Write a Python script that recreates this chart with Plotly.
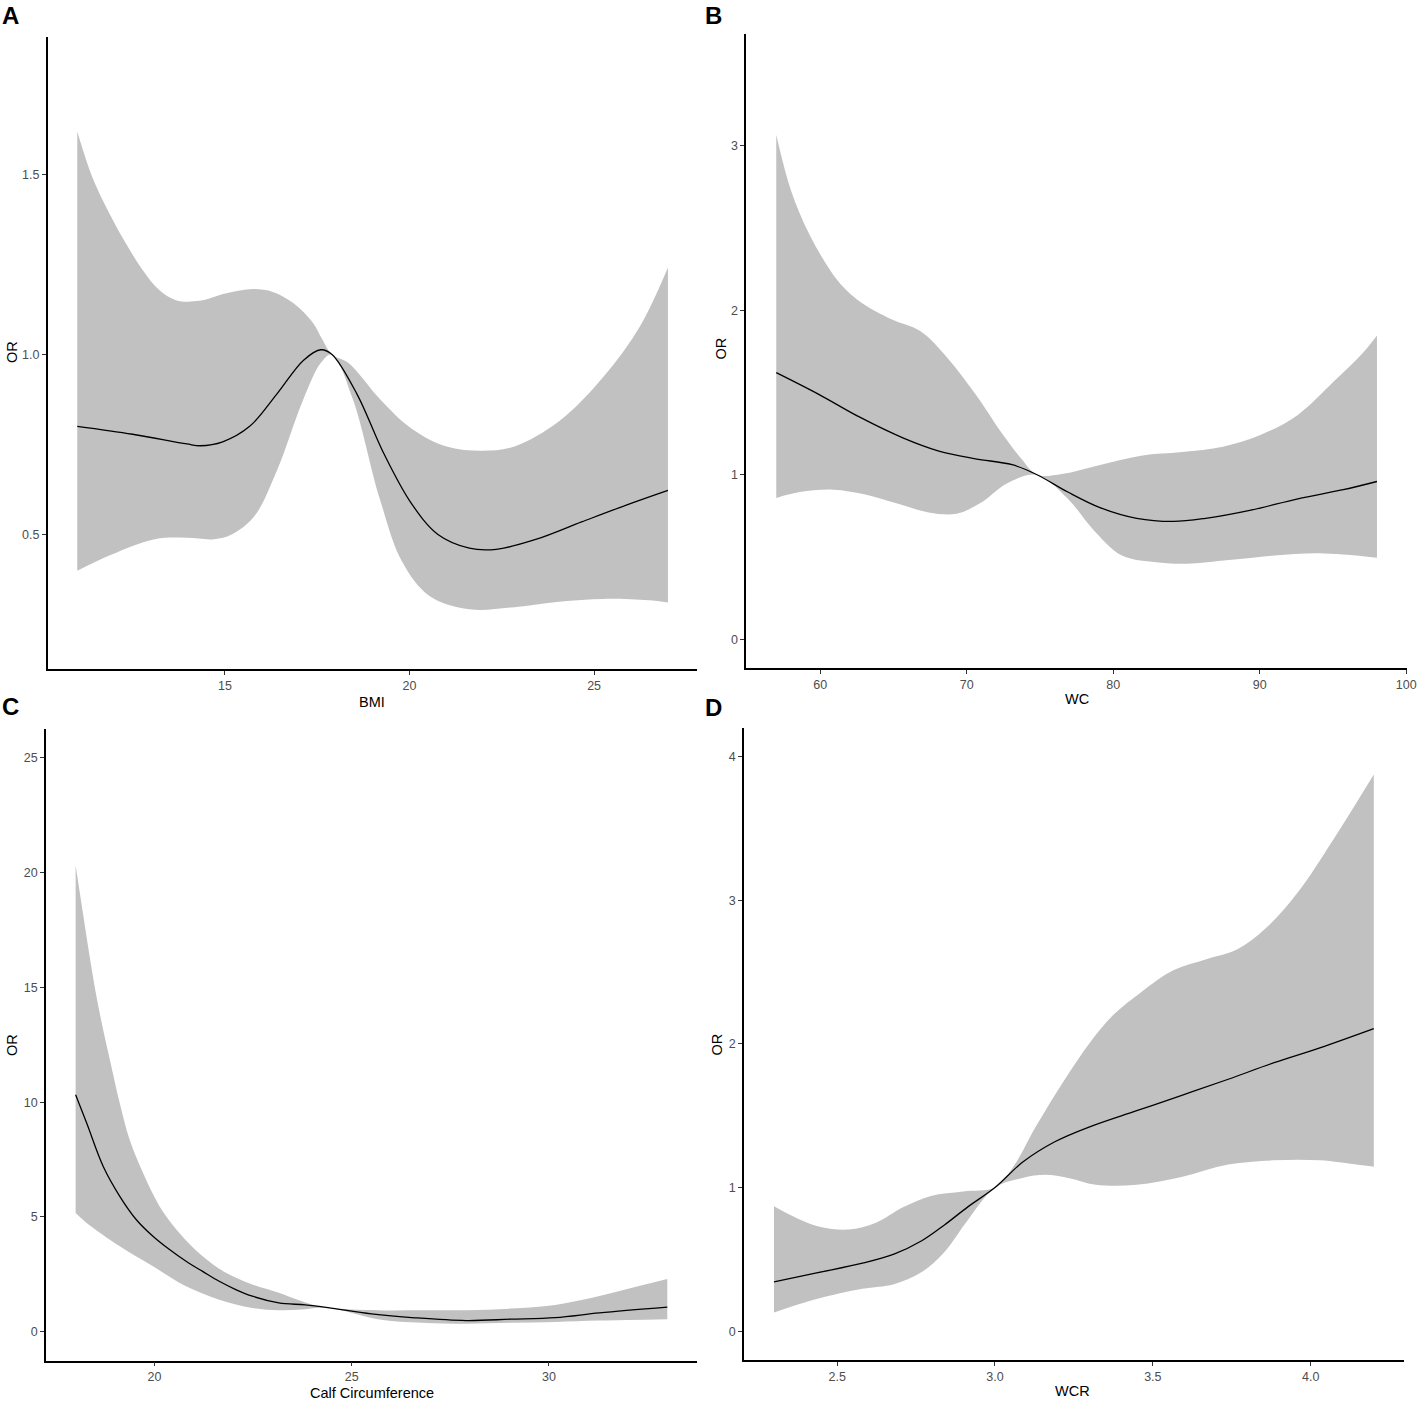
import plotly.graph_objects as go

REF_W, H = 1418, 1403
W = 1429  # page is rendered slightly compressed horizontally; widen to compensate

# ---------------- Panel A : BMI ----------------
bmi_up_x = [11.0, 11.4, 11.86, 12.31, 12.77, 13.22, 13.67, 14.31, 15.04, 15.76, 16.3, 16.85, 17.39, 17.62, 17.9, 18.34, 19.19, 20.04, 21.0, 21.99, 22.84, 24.05, 25.27, 26.24, 27.0]
bmi_up_y = [1.62, 1.495, 1.394, 1.31, 1.235, 1.179, 1.151, 1.149, 1.17, 1.182, 1.174, 1.143, 1.087, 1.045, 1.0, 0.977, 0.877, 0.795, 0.744, 0.732, 0.744, 0.814, 0.94, 1.078, 1.242]
bmi_lo_x = [11.0, 11.9, 13.1, 13.97, 14.7, 15.18, 15.79, 16.4, 17.13, 17.6, 17.9, 18.46, 19.19, 19.8, 20.53, 21.62, 22.84, 24.05, 25.27, 26.48, 27.0]
bmi_lo_y = [0.398, 0.442, 0.486, 0.49, 0.486, 0.499, 0.549, 0.675, 0.877, 0.977, 1.0, 0.877, 0.6, 0.423, 0.329, 0.291, 0.297, 0.312, 0.32, 0.316, 0.31]
bmi_or_x = [11.0, 12.5, 13.97, 14.33, 14.94, 15.67, 16.4, 17.13, 17.6, 17.9, 18.58, 19.3, 20.04, 20.77, 21.62, 22.35, 23.44, 24.66, 25.87, 27.0]
bmi_or_y = [0.80, 0.778, 0.751, 0.746, 0.757, 0.80, 0.889, 0.984, 1.013, 1.0, 0.889, 0.725, 0.587, 0.499, 0.461, 0.458, 0.486, 0.534, 0.581, 0.622]
bmi_xticks = [15, 20, 25]
bmi_yticks = [0.5, 1.0, 1.5]

# ---------------- Panel B : WC ----------------
wc_up_x = [57, 58, 59.3, 61.2, 62.7, 64.9, 66.8, 68.7, 70.6, 72.5, 73.7, 74.8, 76.5, 79.1, 81.9, 84.7, 87.5, 90.0, 92.6, 95.1, 97.0, 98.0]
wc_up_y = [3.067, 2.73, 2.455, 2.18, 2.054, 1.944, 1.875, 1.709, 1.49, 1.24, 1.10, 1.0, 1.005, 1.06, 1.116, 1.138, 1.171, 1.24, 1.364, 1.571, 1.737, 1.847]
wc_lo_x = [57, 58.6, 60.9, 63.0, 65.2, 67.4, 69.3, 70.9, 72.8, 74.8, 76.9, 78.7, 80.6, 83.1, 85.0, 87.9, 91.0, 94.1, 98.0]
wc_lo_y = [0.859, 0.895, 0.909, 0.881, 0.826, 0.771, 0.763, 0.826, 0.95, 1.0, 0.854, 0.66, 0.509, 0.467, 0.459, 0.481, 0.509, 0.522, 0.495]
wc_or_x = [57, 59.9, 62.7, 65.6, 68.1, 70.6, 73.1, 74.8, 76.9, 79.1, 81.6, 84.1, 86.3, 89.4, 92.6, 95.7, 98.0]
wc_or_y = [1.621, 1.489, 1.35, 1.226, 1.144, 1.097, 1.061, 1.0, 0.895, 0.80, 0.735, 0.716, 0.735, 0.785, 0.854, 0.909, 0.959]
wc_xticks = [60, 70, 80, 90, 100]
wc_yticks = [0, 1, 2, 3]

# ---------------- Panel C : Calf Circumference ----------------
cc_up_x = [18.0, 18.2, 18.37, 18.53, 18.7, 18.87, 19.12, 19.37, 19.71, 20.13, 20.63, 21.22, 21.81, 22.48, 23.15, 23.49, 23.99, 24.4, 25.66, 26.78, 27.9, 29.03, 30.16, 31.28, 32.18, 33.0]
cc_up_y = [20.32, 18.07, 16.19, 14.59, 13.14, 11.84, 9.95, 8.36, 6.91, 5.46, 4.30, 3.29, 2.57, 2.06, 1.70, 1.48, 1.19, 1.05, 0.94, 0.94, 0.94, 1.01, 1.17, 1.56, 1.95, 2.3]
cc_lo_x = [18.0, 18.28, 19.12, 19.96, 20.8, 21.64, 22.48, 23.15, 23.75, 24.4, 25.66, 26.78, 27.9, 29.03, 30.16, 31.28, 33.0]
cc_lo_y = [5.17, 4.74, 3.72, 2.85, 1.98, 1.40, 1.04, 0.94, 0.97, 1.05, 0.55, 0.39, 0.35, 0.39, 0.43, 0.49, 0.55]
cc_or_x = [18.0, 18.28, 18.7, 19.12, 19.54, 19.96, 20.38, 20.8, 21.22, 21.64, 22.06, 22.48, 23.15, 23.82, 24.4, 25.5, 26.6, 27.9, 29.03, 30.16, 31.28, 33.0]
cc_or_y = [10.32, 9.09, 7.2, 5.9, 4.88, 4.16, 3.58, 3.07, 2.63, 2.2, 1.84, 1.55, 1.26, 1.17, 1.05, 0.78, 0.61, 0.49, 0.55, 0.62, 0.82, 1.07]
cc_xticks = [20, 25, 30]
cc_yticks = [0, 5, 10, 15, 20, 25]

# ---------------- Panel D : WCR ----------------
wcr_up_x = [2.30, 2.36, 2.435, 2.536, 2.623, 2.71, 2.797, 2.899, 3.0, 3.058, 3.13, 3.217, 3.304, 3.377, 3.464, 3.565, 3.667, 3.768, 3.855, 3.957, 4.072, 4.2]
wcr_up_y = [0.87, 0.80, 0.733, 0.708, 0.755, 0.864, 0.942, 0.973, 1.0, 1.145, 1.426, 1.738, 2.019, 2.206, 2.362, 2.512, 2.587, 2.658, 2.799, 3.048, 3.423, 3.875]
wcr_lo_x = [2.30, 2.435, 2.58, 2.68, 2.768, 2.84, 2.913, 3.0, 3.087, 3.16, 3.232, 3.319, 3.449, 3.594, 3.739, 3.884, 4.029, 4.145, 4.2]
wcr_lo_y = [0.131, 0.225, 0.296, 0.328, 0.412, 0.552, 0.771, 1.0, 1.067, 1.089, 1.067, 1.02, 1.02, 1.076, 1.16, 1.19, 1.19, 1.16, 1.145]
wcr_or_x = [2.30, 2.435, 2.58, 2.68, 2.768, 2.84, 2.913, 3.0, 3.087, 3.188, 3.304, 3.449, 3.594, 3.739, 3.884, 4.029, 4.2]
wcr_or_y = [0.343, 0.406, 0.474, 0.537, 0.63, 0.74, 0.864, 1.0, 1.176, 1.317, 1.426, 1.535, 1.644, 1.754, 1.869, 1.972, 2.106]
wcr_xticks = [2.5, 3.0, 3.5, 4.0]
wcr_yticks = [0, 1, 2, 3, 4]

panel_letters = ["A", "B", "C", "D"]
x_titles = ["BMI", "WC", "Calf Circumference", "WCR"]
y_title = "OR"

RIBBON = "#C1C1C1"
FONT = "Liberation Sans, Arial, sans-serif"

fig = go.Figure()

panels = [
    dict(up=(bmi_up_x, bmi_up_y), lo=(bmi_lo_x, bmi_lo_y), line=(bmi_or_x, bmi_or_y),
         xr=[10.2, 27.8], yr=[0.125, 1.883], xt=bmi_xticks, yt=bmi_yticks, xf=None, yf=".1f",
         px=(47.7, 697), py=(37, 669)),
    dict(up=(wc_up_x, wc_up_y), lo=(wc_lo_x, wc_lo_y), line=(wc_or_x, wc_or_y),
         xr=[54.95, 100.05], yr=[-0.175, 3.68], xt=wc_xticks, yt=wc_yticks, xf=None, yf=None,
         px=(745.7, 1406), py=(34, 668)),
    dict(up=(cc_up_x, cc_up_y), lo=(cc_lo_x, cc_lo_y), line=(cc_or_x, cc_or_y),
         xr=[17.25, 33.75], yr=[-1.25, 26.25], xt=cc_xticks, yt=cc_yticks, xf=None, yf=None,
         px=(46, 696.4), py=(729, 1360.5)),
    dict(up=(wcr_up_x, wcr_up_y), lo=(wcr_lo_x, wcr_lo_y), line=(wcr_or_x, wcr_or_y),
         xr=[2.205, 4.295], yr=[-0.2, 4.2], xt=wcr_xticks, yt=wcr_yticks, xf=".1f", yf=None,
         px=(743.5, 1402.8), py=(727.8, 1360)),
]

layout_axes = {}
for i, p in enumerate(panels):
    n = "" if i == 0 else str(i + 1)
    xa, ya = "x" + n, "y" + n
    fig.add_trace(go.Scatter(x=p["lo"][0], y=p["lo"][1], mode="lines",
                             line=dict(width=0, shape="spline", color=RIBBON),
                             xaxis=xa, yaxis=ya, showlegend=False, hoverinfo="skip"))
    fig.add_trace(go.Scatter(x=p["up"][0], y=p["up"][1], mode="lines",
                             line=dict(width=0, shape="spline", color=RIBBON),
                             fill="tonexty", fillcolor=RIBBON,
                             xaxis=xa, yaxis=ya, showlegend=False, hoverinfo="skip"))
    fig.add_trace(go.Scatter(x=p["line"][0], y=p["line"][1], mode="lines",
                             line=dict(width=1.3, shape="spline", color="black"),
                             xaxis=xa, yaxis=ya, showlegend=False))
    common = dict(showgrid=False, zeroline=False, showline=True, linecolor="black",
                  linewidth=1.6, ticks="outside", ticklen=4, tickwidth=1.1,
                  tickcolor="#333333",
                  tickfont=dict(family=FONT, size=12.5, color="#4D4D4D"))
    xd = [p["px"][0] / REF_W, p["px"][1] / REF_W]
    yd = [1 - p["py"][1] / H, 1 - p["py"][0] / H]
    xax = dict(common, domain=xd, range=p["xr"], tickvals=p["xt"], anchor=ya)
    yax = dict(common, domain=yd, range=p["yr"], tickvals=p["yt"], anchor=xa)
    if p["xf"]:
        xax["tickformat"] = p["xf"]
    if p["yf"]:
        yax["tickformat"] = p["yf"]
    layout_axes["xaxis" + n] = xax
    layout_axes["yaxis" + n] = yax

annotations = []
letter_pos = [(10, 16), (713, 15), (10, 707), (713, 708)]
xtitle_pos = [(372, 702), (1076, 699), (372, 1393), (1072, 1391)]
ytitle_pos = [(12, 352), (720, 349), (12, 1045), (716, 1045)]
for i in range(4):
    lx, ly = letter_pos[i]
    annotations.append(dict(text="<b>%s</b>" % panel_letters[i], x=lx / REF_W, y=1 - ly / H,
                            xref="paper", yref="paper", showarrow=False,
                            xanchor="center", yanchor="middle",
                            font=dict(family=FONT, size=24, color="black")))
    tx, ty = xtitle_pos[i]
    annotations.append(dict(text=x_titles[i], x=tx / REF_W, y=1 - ty / H,
                            xref="paper", yref="paper", showarrow=False,
                            xanchor="center", yanchor="middle",
                            font=dict(family=FONT, size=14.5, color="black")))
    vx, vy = ytitle_pos[i]
    annotations.append(dict(text=y_title, x=vx / REF_W, y=1 - vy / H, textangle=-90,
                            xref="paper", yref="paper", showarrow=False,
                            xanchor="center", yanchor="middle",
                            font=dict(family=FONT, size=14.5, color="black")))

fig.update_layout(width=W, height=H, margin=dict(l=0, r=0, t=0, b=0),
                  paper_bgcolor="white", plot_bgcolor="white",
                  annotations=annotations, **layout_axes)

fig.write_html("out.html",
               config={"displayModeBar": False, "responsive": False},
               post_script=("document.documentElement.style.margin='0';"
                            "document.documentElement.style.padding='0';"
                            "document.documentElement.style.overflow='hidden';"
                            "document.body.style.margin='0';"
                            "document.body.style.padding='0';"
                            "document.body.style.overflow='hidden';"))
